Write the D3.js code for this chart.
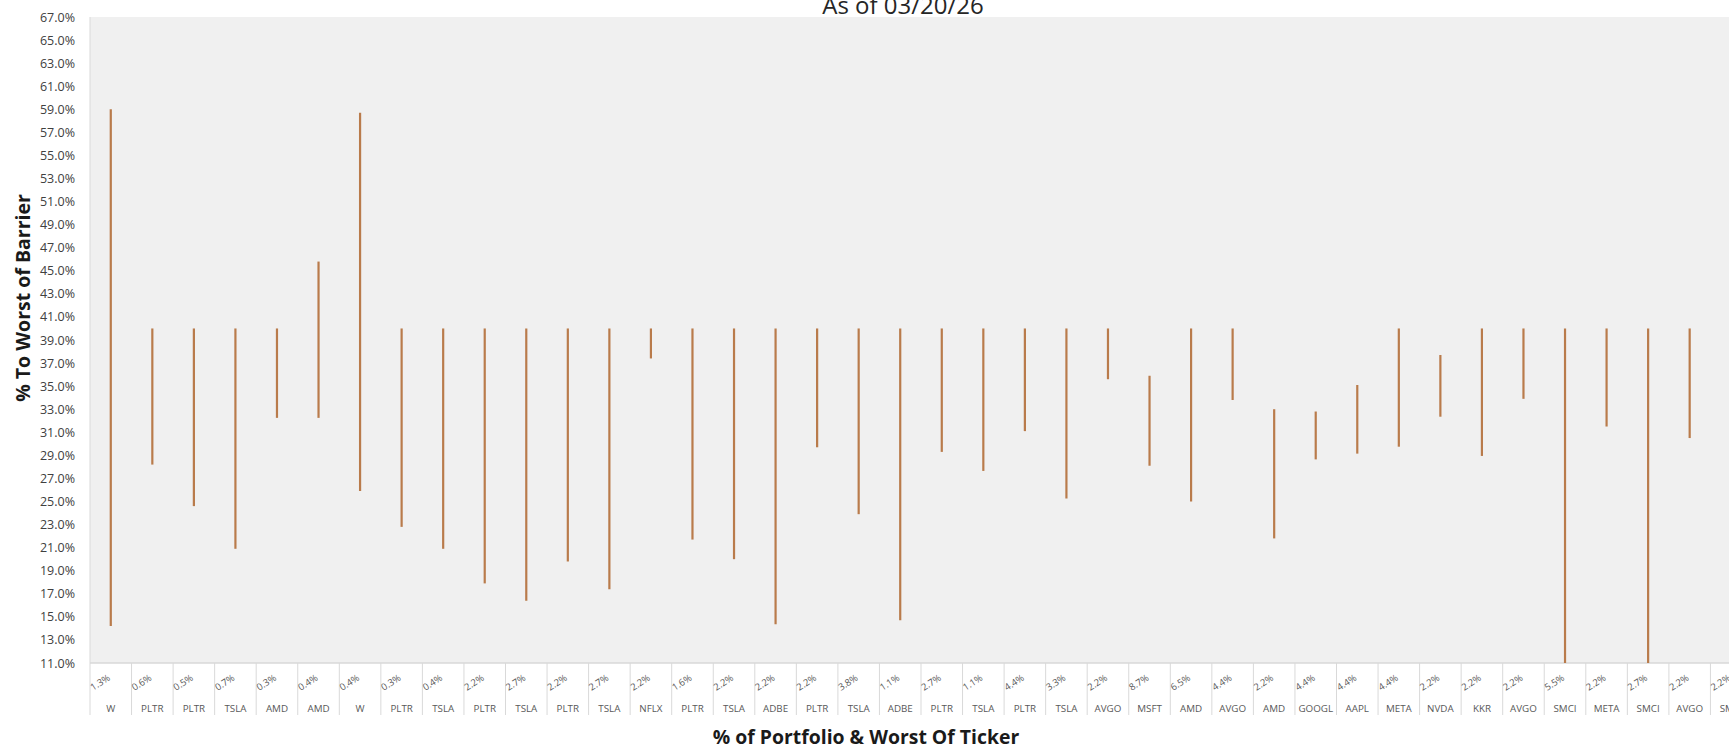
<!DOCTYPE html>
<html>
<head>
<meta charset="utf-8">
<script src="https://cdnjs.cloudflare.com/ajax/libs/d3/7.8.5/d3.min.js"></script>
<style>
  body { margin:0; background:#fff; font-family:"Open Sans", sans-serif; }
  svg { display:block; }
</style>
</head>
<body>
<div class="visHolder"></div>
<script>
var width = 1729,
    height = 747;

// ticker (worst of) for each note
var tickers = ['W','PLTR','PLTR','TSLA','AMD','AMD','W','PLTR','TSLA','PLTR',
  'TSLA','PLTR','TSLA','NFLX','PLTR','TSLA','ADBE','PLTR','TSLA','ADBE',
  'PLTR','TSLA','PLTR','TSLA','AVGO','MSFT','AMD','AVGO','AMD','GOOGL',
  'AAPL','META','NVDA','KKR','AVGO','SMCI','META','SMCI','AVGO','SMCI'];

// % of portfolio
var weights = ['1.3%','0.6%','0.5%','0.7%','0.3%','0.4%','0.4%','0.3%','0.4%','2.2%',
  '2.7%','2.2%','2.7%','2.2%','1.6%','2.2%','2.2%','2.2%','3.8%','1.1%',
  '2.7%','1.1%','4.4%','3.3%','2.2%','8.7%','6.5%','4.4%','2.2%','4.4%',
  '4.4%','4.4%','2.2%','2.2%','2.2%','5.5%','2.2%','2.7%','2.2%','2.2%'];

// high / low of % to worst of barrier
var highVals = [59.0,40.0,40.0,40.0,40.0,45.8,58.7,40.0,40.0,40.0,
  40.0,40.0,40.0,40.0,40.0,40.0,40.0,40.0,40.0,40.0,
  40.0,40.0,40.0,40.0,40.0,35.9,40.0,40.0,33.0,32.8,
  35.1,40.0,37.7,40.0,40.0,40.0,40.0,40.0,40.0,40.0];
var lowVals = [14.2,28.2,24.6,20.9,32.25,32.25,25.9,22.8,20.9,17.9,
  16.4,19.8,17.4,37.4,21.7,20.0,14.35,29.7,23.9,14.7,
  29.3,27.65,31.1,25.26,35.6,28.1,25.0,33.8,21.8,28.65,
  29.15,29.75,32.35,28.95,33.9,9.0,31.5,9.0,30.5,9.0];

var yTicks = [11,13,15,17,19,21,23,25,27,29,31,33,35,37,39,41,43,45,47,49,51,53,55,57,59,61,63,65,67];

var plotLeft = 90, plotTop = 17, plotBottom = 663, bandW = 41.55;

var svg = d3.select('.visHolder')
  .append('svg')
  .attr('width', width)
  .attr('height', height);

var xScale = d3.scaleBand()
  .domain(d3.range(tickers.length))
  .range([plotLeft, plotLeft + bandW * tickers.length])
  .padding(0);

var yScale = d3.scaleLinear()
  .domain([11, 67])
  .range([plotBottom, plotTop]);

// plot background
svg.append('rect')
  .attr('x', plotLeft)
  .attr('y', plotTop)
  .attr('width', width - plotLeft)
  .attr('height', plotBottom - plotTop)
  .style('fill', '#f0f0f0');

svg.append('defs').append('clipPath').attr('id', 'clip')
  .append('rect')
  .attr('x', plotLeft)
  .attr('y', plotTop)
  .attr('width', width - plotLeft)
  .attr('height', plotBottom - plotTop);

// y axis
var yAxis = d3.axisLeft(yScale)
  .tickValues(yTicks)
  .tickSize(0)
  .tickPadding(15)
  .tickFormat(function (d) { return d3.format('.1f')(d) + '%'; });

var gy = svg.append('g')
  .attr('id', 'y-axis')
  .attr('transform', 'translate(' + plotLeft + ',0)')
  .call(yAxis);
gy.select('.domain').remove();
gy.selectAll('text')
  .style('font-family', '"Open Sans", sans-serif')
  .style('font-size', '12.5px')
  .style('fill', '#404040');

svg.append('line')
  .attr('x1', plotLeft).attr('x2', plotLeft)
  .attr('y1', plotTop).attr('y2', 715)
  .style('stroke', '#d9d9d9').style('stroke-width', 1);

svg.append('line')
  .attr('x1', plotLeft).attr('x2', width)
  .attr('y1', plotBottom).attr('y2', plotBottom)
  .style('stroke', '#d9d9d9').style('stroke-width', 1.5);

// category separators and labels
var cats = svg.append('g').attr('id', 'x-axis')
  .selectAll('.cat')
  .data(tickers)
  .enter()
  .append('g')
  .attr('class', 'cat')
  .attr('transform', function (d, i) { return 'translate(' + xScale(i) + ',0)'; });

cats.append('line')
  .attr('x1', bandW).attr('x2', bandW)
  .attr('y1', plotBottom).attr('y2', 715)
  .style('stroke', '#d9d9d9').style('stroke-width', 1);

cats.append('text')
  .attr('transform', 'translate(3,691) rotate(-33)')
  .style('font-size', '9.5px')
  .style('fill', '#595959')
  .text(function (d, i) { return weights[i]; });

cats.append('text')
  .attr('x', bandW / 2)
  .attr('y', 712)
  .style('text-anchor', 'middle')
  .style('font-size', '9.8px')
  .style('fill', '#595959')
  .text(function (d) { return d; });

// high-low lines
svg.append('g')
  .attr('clip-path', 'url(#clip)')
  .selectAll('.hl')
  .data(tickers)
  .enter()
  .append('line')
  .attr('class', 'hl')
  .attr('x1', function (d, i) { return xScale(i) + bandW / 2; })
  .attr('x2', function (d, i) { return xScale(i) + bandW / 2; })
  .attr('y1', function (d, i) { return yScale(highVals[i]); })
  .attr('y2', function (d, i) { return yScale(lowVals[i]); })
  .style('stroke', '#b97b4b')
  .style('stroke-width', 2.2);

// titles
svg.append('text')
  .attr('x', 903)
  .attr('y', 14)
  .style('text-anchor', 'middle')
  .style('font-size', '24px')
  .style('fill', '#262626')
  .text('As of 03/20/26');

svg.append('text')
  .attr('transform', 'translate(30,298) rotate(-90)')
  .style('text-anchor', 'middle')
  .style('font-size', '19.5px')
  .style('font-weight', 'bold')
  .style('fill', '#1a1a1a')
  .text('% To Worst of Barrier');

svg.append('text')
  .attr('x', 866)
  .attr('y', 744)
  .style('text-anchor', 'middle')
  .style('font-size', '19.4px')
  .style('font-weight', 'bold')
  .style('fill', '#1a1a1a')
  .text('% of Portfolio & Worst Of Ticker');
</script>
</body>
</html>
